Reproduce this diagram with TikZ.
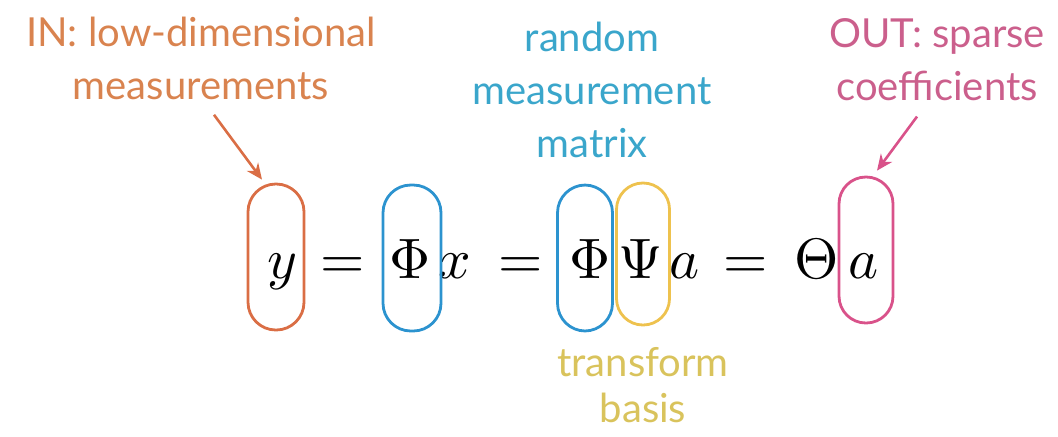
\documentclass[tikz,border=0pt]{standalone}
\usepackage{fontspec}
\setsansfont{Lato}
\usetikzlibrary{arrows.meta}
\definecolor{inC}{HTML}{D9834F}
\definecolor{inO}{HTML}{DA6E45}
\definecolor{blC}{HTML}{3AA6CB}
\definecolor{blO}{HTML}{2C93CF}
\definecolor{yeC}{HTML}{D9C35C}
\definecolor{yeO}{HTML}{EEC24E}
\definecolor{pkC}{HTML}{CB5F8C}
\definecolor{pkO}{HTML}{D9528A}
\begin{document}
\begin{tikzpicture}[x=0.5pt,y=-0.5pt,
  lab/.style={font=\sffamily\fontsize{20}{26.5}\selectfont, align=center, inner sep=0pt},
  sym/.style={scale=2.85, anchor=base, inner sep=0pt},
  oval/.style={draw, line width=1.4pt, inner sep=0pt, minimum width=28pt, minimum height=73pt, rounded corners=13.9pt},
  arr/.style={-{Stealth[length=8pt,width=7pt]}, line width=1.3pt}]
\useasboundingbox (0,0) rectangle (1058,436);
% labels
\node[lab, text=inC] (inlab) at (201,58) {IN: low-dimensional\\measurements};
\node[lab, text=blC] (rmm) at (592,90) {random\\measurement\\matrix};
\node[lab, text=pkC] (outlab) at (937,60) {OUT: sparse\\coefficients};
\node[lab, text=yeC, font=\sffamily\fontsize{20}{23}\selectfont] (tb) at (643,385) {transform\\basis};
% equation
\node[sym] (s1) at (282,278) {$y$};
\node[sym] (e1) at (343,278) {$=$};
\node[sym] (s2) at (410,278) {$\Phi$};
\node[sym] (s3) at (455,278) {$x$};
\node[sym] (e2) at (521,278) {$=$};
\node[sym] (s4) at (590,278) {$\Phi$};
\node[sym] (s5) at (641,278) {$\Psi$};
\node[sym] (s6) at (685,278) {$a$};
\node[sym] (e3) at (746,278) {$=$};
\node[sym] (s7) at (817,278) {$\Theta$};
\node[sym] (s8) at (864,278) {$a$};
% ovals
\node[oval, draw=inO] (yo) at (276,257) {};
\node[oval, draw=blO, minimum width=29pt] (po1) at (412,258) {};
\node[oval, draw=blO, minimum width=27.5pt] (po2) at (585,258) {};
\node[oval, draw=yeO, minimum width=26.5pt, minimum height=71pt, rounded corners=13.2pt] (so) at (643,254) {};
\node[oval, draw=pkO, minimum width=27pt, rounded corners=13.4pt] (ao) at (866,250) {};
% arrows
\draw[arr, inO] ([xshift=6.5pt,yshift=-7.5pt]inlab.south) -- ([xshift=-7pt,yshift=1.5pt]yo.north);
\draw[arr, pkO] ([xshift=-10pt,yshift=-7.5pt]outlab.south) -- ([xshift=5.5pt,yshift=2.5pt]ao.north);
\end{tikzpicture}
\end{document}
